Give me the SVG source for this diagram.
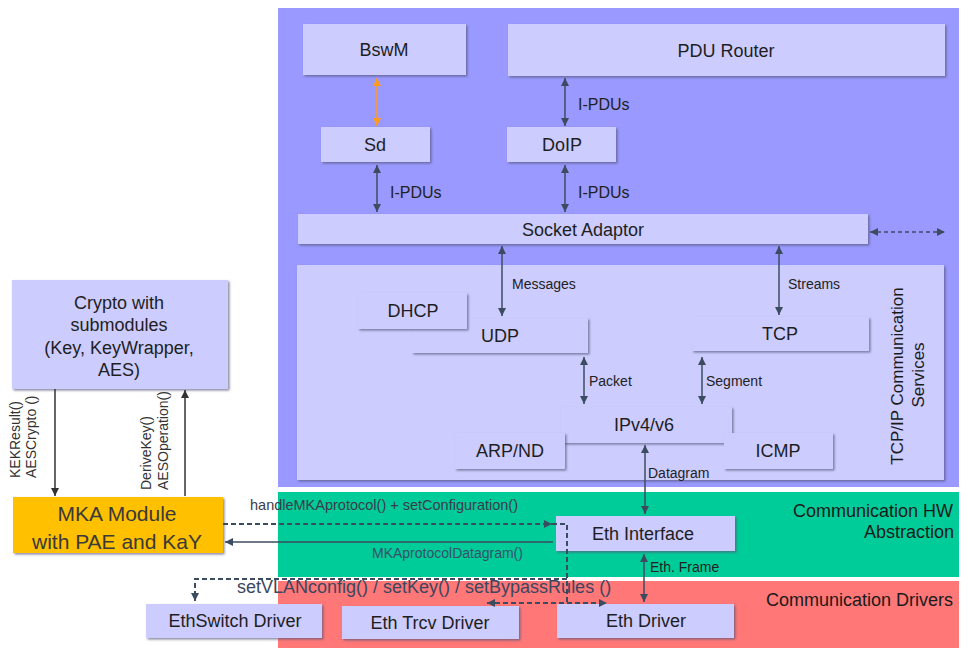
<svg xmlns="http://www.w3.org/2000/svg" width="961" height="648" viewBox="0 0 961 648">
<defs>
<filter id="sh" x="-5%" y="-5%" width="110%" height="130%">
<feDropShadow dx="1.5" dy="1.5" stdDeviation="0.8" flood-color="#555577" flood-opacity="0.7"/>
</filter>
<marker id="ah" viewBox="0 0 8 8" refX="8" refY="4" markerWidth="8" markerHeight="8" markerUnits="userSpaceOnUse" orient="auto-start-reverse">
<path d="M0,0 L8,4 L0,8 z" fill="#3c4c60"/>
</marker>
<marker id="ahk" viewBox="0 0 8 8" refX="8" refY="4" markerWidth="8" markerHeight="8" markerUnits="userSpaceOnUse" orient="auto-start-reverse">
<path d="M0,0 L8,4 L0,8 z" fill="#333"/>
</marker>
<marker id="aho" viewBox="0 0 8 8" refX="8" refY="4" markerWidth="8" markerHeight="8" markerUnits="userSpaceOnUse" orient="auto-start-reverse">
<path d="M0,0 L8,4 L0,8 z" fill="#ff9a1a"/>
</marker>
</defs>
<style>
text { font-family: "Liberation Sans", Arial, sans-serif; }
.box { fill: #ccccff; filter: url(#sh); }
.nt { font-size: 18px; fill: #1e1e1e; text-anchor: middle; dominant-baseline: central; }
.lb { font-size: 15px; fill: #222; dominant-baseline: central; }
.sm { font-size: 14px; fill: #333; dominant-baseline: central; }
.band { font-size: 18px; fill: #1a1a1a; text-anchor: end; dominant-baseline: central; }
.vt { font-size: 17px; fill: #1a1a1a; text-anchor: middle; dominant-baseline: central; }
.arr { stroke: #3c4c60; stroke-width: 1.5; fill: none; marker-start: url(#ah); marker-end: url(#ah); }
.one { stroke: #333; stroke-width: 1.5; fill: none; marker-end: url(#ahk); }
.dsh { stroke: #3c4c60; stroke-width: 2; fill: none; stroke-dasharray: 5 3; }
</style>

<g id="bands">
<rect x="278" y="8" width="681" height="479" fill="#9999ff"/>
<rect x="278" y="492" width="681" height="85" fill="#00cc99"/>
<rect x="278" y="581" width="681" height="67" fill="#ff7777"/>
<text class="band" x="953" y="511">Communication HW</text>
<text class="band" x="954" y="532">Abstraction</text>
<text class="band" x="953" y="600">Communication Drivers</text>
</g>

<g id="BswM"><rect class="box" x="303" y="24" width="163" height="51"/><text class="nt" x="384" y="50">BswM</text></g>
<g id="PDURouter"><rect class="box" x="508" y="24" width="437" height="52"/><text class="nt" x="726" y="51">PDU Router</text></g>
<g id="Sd"><rect class="box" x="321" y="127" width="109" height="35"/><text class="nt" x="375" y="145">Sd</text></g>
<g id="DoIP"><rect class="box" x="507" y="127" width="109" height="35"/><text class="nt" x="562" y="145">DoIP</text></g>
<g id="SocketAdaptor"><rect class="box" x="298" y="214" width="570" height="30"/><text class="nt" x="583" y="230">Socket Adaptor</text></g>

<g id="TcpIp">
<rect class="box" x="297" y="265" width="647" height="215"/>
<text class="vt" transform="translate(897,376) rotate(-90)">TCP/IP Communication</text>
<text class="vt" transform="translate(918,375) rotate(-90)">Services</text>
</g>
<g id="UDP"><rect class="box" x="412" y="318" width="176" height="35"/><text class="nt" x="500" y="336">UDP</text></g>
<g id="DHCP"><rect class="box" x="358" y="293" width="109" height="36"/><text class="nt" x="413" y="311">DHCP</text></g>
<g id="TCP"><rect class="box" x="692" y="317" width="177" height="34"/><text class="nt" x="780" y="334">TCP</text></g>
<g id="IPv4v6"><rect class="box" x="561" y="407" width="171" height="36"/><text class="nt" x="644" y="425">IPv4/v6</text></g>
<g id="ARPND"><rect class="box" x="455" y="433" width="110" height="36"/><text class="nt" x="510" y="451">ARP/ND</text></g>
<g id="ICMP"><rect class="box" x="724" y="433" width="109" height="36"/><text class="nt" x="778" y="451">ICMP</text></g>

<g id="EthInterface"><rect class="box" x="556" y="516" width="179" height="35"/><text class="nt" x="643" y="534">Eth Interface</text></g>
<g id="EthSwitchDriver"><rect class="box" x="146" y="604" width="176" height="34"/><text class="nt" x="235" y="621">EthSwitch Driver</text></g>
<g id="EthTrcvDriver"><rect class="box" x="342" y="606" width="177" height="33"/><text class="nt" x="430" y="623">Eth Trcv Driver</text></g>
<g id="EthDriver"><rect class="box" x="557" y="604" width="177" height="34"/><text class="nt" x="646" y="621">Eth Driver</text></g>

<g id="Crypto"><rect class="box" x="12" y="280" width="216" height="109"/>
<text class="nt" x="119" y="303">Crypto with</text>
<text class="nt" x="119" y="325">submodules</text>
<text class="nt" x="119" y="348">(Key, KeyWrapper,</text>
<text class="nt" x="119" y="370">AES)</text>
</g>
<g id="MKA"><rect class="box" x="13" y="497" width="210" height="56" style="fill:#ffc000"/>
<text class="nt" x="117" y="513" style="font-size:21px;fill:#3a3a3a">MKA Module</text>
<text class="nt" x="117" y="541" style="font-size:21px;fill:#3a3a3a">with PAE and KaY</text>
</g>

<g id="connectors">
<line x1="377" y1="78" x2="377" y2="126" stroke="#ff9a1a" stroke-width="1.5" marker-start="url(#aho)" marker-end="url(#aho)"/>
<line class="arr" x1="565" y1="78" x2="565" y2="126"/>
<text class="lb" x="578" y="104" style="font-size:16px">I-PDUs</text>
<line class="arr" x1="377" y1="165" x2="377" y2="212"/>
<text class="lb" x="390" y="192" style="font-size:16px">I-PDUs</text>
<line class="arr" x1="565" y1="165" x2="565" y2="212"/>
<text class="lb" x="578" y="192" style="font-size:16px">I-PDUs</text>
<line class="arr" x1="870" y1="232" x2="945" y2="232" stroke-dasharray="4 3"/>
<line class="arr" x1="502" y1="246" x2="502" y2="316"/>
<text class="lb" x="512" y="284" style="font-size:14px">Messages</text>
<line class="arr" x1="779" y1="246" x2="779" y2="315"/>
<text class="lb" x="788" y="284" style="font-size:14px">Streams</text>
<line class="arr" x1="584" y1="357" x2="584" y2="404"/>
<text class="lb" x="589" y="381" style="font-size:14px">Packet</text>
<line class="arr" x1="702" y1="357" x2="702" y2="404"/>
<text class="lb" x="706" y="381" style="font-size:14px">Segment</text>
<line class="arr" x1="645" y1="445" x2="645" y2="514"/>
<text class="lb" x="648" y="473" style="font-size:14px">Datagram</text>
<line class="arr" x1="644" y1="554" x2="644" y2="602"/>
<text class="lb" x="650" y="567" style="font-size:14px">Eth. Frame</text>

<line class="one" x1="55" y1="389" x2="55" y2="496"/>
<line class="one" x1="185" y1="496" x2="185" y2="390"/>
<text class="sm" transform="translate(15,478) rotate(-90)">KEKResult()</text>
<text class="sm" transform="translate(31,478) rotate(-90)">AESCrypto ()</text>
<text class="sm" transform="translate(146,490) rotate(-90)">DeriveKey()</text>
<text class="sm" transform="translate(163,490) rotate(-90)">AESOperation()</text>

<line class="dsh" x1="223" y1="524" x2="552" y2="524" marker-end="url(#ah)"/>
<path class="dsh" d="M552,524 H567 V603"/>
<line class="arr dsh" x1="487" y1="603" x2="607" y2="603" style="stroke-width:1.8"/>
<path class="dsh" d="M567,579 H195 V601" stroke-width="1.5" stroke="#556070" marker-end="url(#ah)"/>
<line stroke="#3c4c60" stroke-width="1.5" x1="553" y1="542" x2="225" y2="542" marker-end="url(#ah)"/>
<text class="sm" x="250" y="505" style="font-size:14.5px;fill:#3a3a4a">handleMKAprotocol() + setConfiguration()</text>
<text class="sm" x="372" y="553" style="fill:#34506a">MKAprotocolDatagram()</text>
<text class="lb" x="237" y="587" style="font-size:18px;fill:#3d4660">setVLANconfig() / setKey() / setBypassRules ()</text>
</g>
</svg>
